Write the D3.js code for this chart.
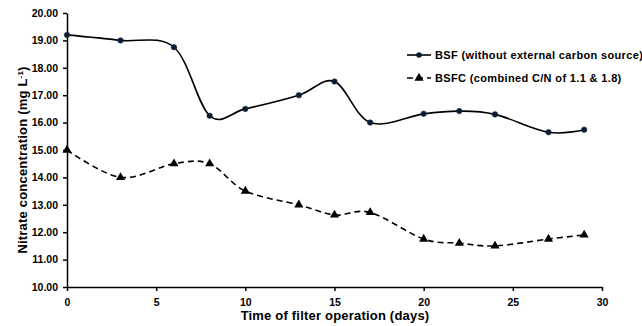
<!doctype html>
<html lang="en">
<head>
<meta charset="utf-8">
<title>nitrate</title>
<style>
  body { margin: 0; background: #fff; }
  .axis text { font: bold 10.5px "Liberation Sans", Arial, sans-serif; fill: #000; }
  .axis path, .axis line { stroke: #000; stroke-width: 1.5; }
  .title { font: bold 13px "Liberation Sans", Arial, sans-serif; fill: #000; letter-spacing: 0.2px; }
  .legend text { font: bold 11px "Liberation Sans", Arial, sans-serif; fill: #000; letter-spacing: 0.35px; }
</style>
</head>
<body>
<div class="chart"></div>
<script src="https://d3js.org/d3.v7.min.js"></script>
<script>
'use strict';

const days = [0, 3, 6, 8, 10, 13, 15, 17, 20, 22, 24, 27, 29];
const bsf = [19.2, 19.0, 18.75, 16.25, 16.5, 17.0, 17.5, 16.0, 16.32, 16.42, 16.3, 15.65, 15.74];
const bsfc = [15.0, 14.0, 14.5, 14.5, 13.5, 13.0, 12.63, 12.72, 11.75, 11.6, 11.5, 11.75, 11.9];
const xTicks = [0, 5, 10, 15, 20, 25, 30];
const yTicks = [10, 11, 12, 13, 14, 15, 16, 17, 18, 19, 20];
const seriesNames = ['BSF (without external carbon source)', 'BSFC (combined C/N of 1.1 & 1.8)'];

const W = 642, H = 326;
const margin = {top: 13, right: 40, bottom: 39, left: 67};
const width = W - margin.left - margin.right;
const height = H - margin.top - margin.bottom;

const svg = d3.select('.chart').append('svg')
  .attr('width', W).attr('height', H);
const g = svg.append('g')
  .attr('transform', `translate(${margin.left},${margin.top})`);

const x = d3.scaleLinear().domain([0, 30]).range([0, width]);
const y = d3.scaleLinear().domain([10, 20]).range([height, 0]);

g.append('g')
  .attr('class', 'axis')
  .attr('transform', `translate(0,${height})`)
  .call(d3.axisBottom(x).tickValues(xTicks).tickSize(4).tickSizeOuter(0))
  .selectAll('text').attr('dy', '1.1em');

g.append('g')
  .attr('class', 'axis')
  .call(d3.axisLeft(y).tickValues(yTicks).tickFormat(d3.format('.2f')).tickSize(4).tickPadding(5).tickSizeOuter(0));

const line = d3.line()
  .x((d, i) => x(days[i]))
  .y(d => y(d))
  .curve(d3.curveCatmullRom.alpha(0));

g.append('path').datum(bsf)
  .attr('d', line)
  .attr('fill', 'none').attr('stroke', '#000').attr('stroke-width', 1.6);

g.append('path').datum(bsfc)
  .attr('d', line)
  .attr('fill', 'none').attr('stroke', '#000').attr('stroke-width', 1.6)
  .attr('stroke-dasharray', '6,4');

const circle = d3.symbol().type(d3.symbolCircle).size(24);
const tri = d3.symbol().type(d3.symbolTriangle).size(36);

g.selectAll('.m1').data(bsf).join('path')
  .attr('class', 'm1')
  .attr('transform', (d, i) => `translate(${x(days[i])},${y(d)})`)
  .attr('d', circle)
  .attr('fill', '#0d1b2e').attr('stroke', '#1f3550').attr('stroke-width', 0.6);

g.selectAll('.m2').data(bsfc).join('path')
  .attr('class', 'm2')
  .attr('transform', (d, i) => `translate(${x(days[i])},${y(d)})`)
  .attr('d', tri)
  .attr('fill', '#000');

// legend
const legend = svg.append('g').attr('class', 'legend');
const leg = [{y: 55, dash: null, sym: circle, fill: '#0d1b2e'}, {y: 78, dash: '6,4', sym: tri, fill: '#000'}];
leg.forEach((l, i) => {
  legend.append('line')
    .attr('x1', 407).attr('x2', 431).attr('y1', l.y).attr('y2', l.y)
    .attr('stroke', '#000').attr('stroke-width', 1.6)
    .attr('stroke-dasharray', l.dash);
  legend.append('path')
    .attr('transform', `translate(419,${l.y})`)
    .attr('d', l.sym).attr('fill', l.fill);
  legend.append('text')
    .attr('x', 435).attr('y', l.y).attr('dy', '0.35em')
    .text(seriesNames[i]);
});

svg.append('text').attr('class', 'title')
  .attr('x', 335).attr('y', 320)
  .attr('text-anchor', 'middle')
  .text('Time of filter operation (days)');

const yt = svg.append('text').attr('class', 'title')
  .attr('transform', `translate(27,160) rotate(-90)`)
  .attr('text-anchor', 'middle');
yt.append('tspan').text('Nitrate concentration (mg L');
yt.append('tspan').attr('baseline-shift', 'super').attr('font-size', '8px').text('-1');
yt.append('tspan').text(')');
</script>
</body>
</html>
